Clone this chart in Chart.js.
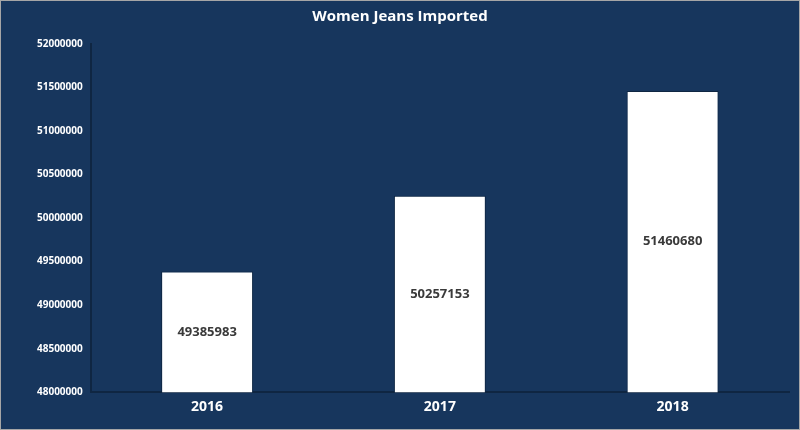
<!DOCTYPE html>
<html>
<head>
<meta charset="utf-8">
<script src="https://cdn.jsdelivr.net/npm/chart.js@4"></script>
<style>
  html, body { margin: 0; padding: 0; background: #ffffff; }
  #wrap { position: relative; width: 798px; height: 428px; border: 1px solid #a6a6a6; background: #17365d; }
</style>
</head>
<body>
<div id="wrap"><canvas id="myChart" width="798" height="428"></canvas></div>
<script>
const years = ["2016", "2017", "2018"];
const imported = [49385983, 50257153, 51460680];
const yMin = 48000000;
const yMax = 52000000;
const yStep = 500000;

// draws the value in the middle of each bar
const barLabels = {
  id: "barLabels",
  afterDraw(chart) {
    const ctx = chart.ctx;
    const xs = chart.scales.x;
    const ys = chart.scales.y;
    ctx.save();
    ctx.font = "bold 13px 'Open Sans'";
    ctx.fillStyle = "#3a3a3a";
    ctx.textAlign = "center";
    ctx.textBaseline = "middle";
    imported.forEach((v, i) => {
      const x = xs.getPixelForValue(i);
      const mid = (ys.getPixelForValue(v) + ys.getPixelForValue(yMin)) / 2;
      ctx.fillText(String(v), x, mid);
    });
    ctx.restore();
  }
};

new Chart(document.getElementById("myChart"), {
  type: "bar",
  data: {
    labels: years,
    datasets: [{
      data: imported,
      backgroundColor: "#ffffff",
      borderColor: "#0f2642",
      borderWidth: 1,
      categoryPercentage: 1,
      barPercentage: 0.395
    }]
  },
  options: {
    responsive: false,
    animation: false,
    layout: { padding: { top: 4, right: 10, bottom: 8, left: 10 } },
    plugins: {
      legend: { display: false },
      tooltip: { enabled: false },
      title: {
        display: true,
        text: "Women Jeans Imported",
        color: "#ffffff",
        font: { family: "'Open Sans'", size: 15, weight: "bold" },
        padding: { top: 3, bottom: 18 }
      }
    },
    scales: {
      x: {
        grid: { display: false, drawTicks: false },
        border: { color: "#0f2642", width: 2 },
        ticks: {
          color: "#ffffff",
          font: { family: "'Open Sans'", size: 14, weight: "bold" },
          padding: 6
        }
      },
      y: {
        min: yMin,
        max: yMax,
        grid: { display: false, drawTicks: false },
        border: { color: "#0f2642", width: 2 },
        afterFit: (scale) => { scale.width += 18; },
        ticks: {
          stepSize: yStep,
          color: "#ffffff",
          font: { family: "'Open Sans'", size: 10, weight: "bold" },
          padding: 8,
          callback: (v) => String(v)
        }
      }
    }
  },
  plugins: [barLabels]
});
</script>
</body>
</html>
